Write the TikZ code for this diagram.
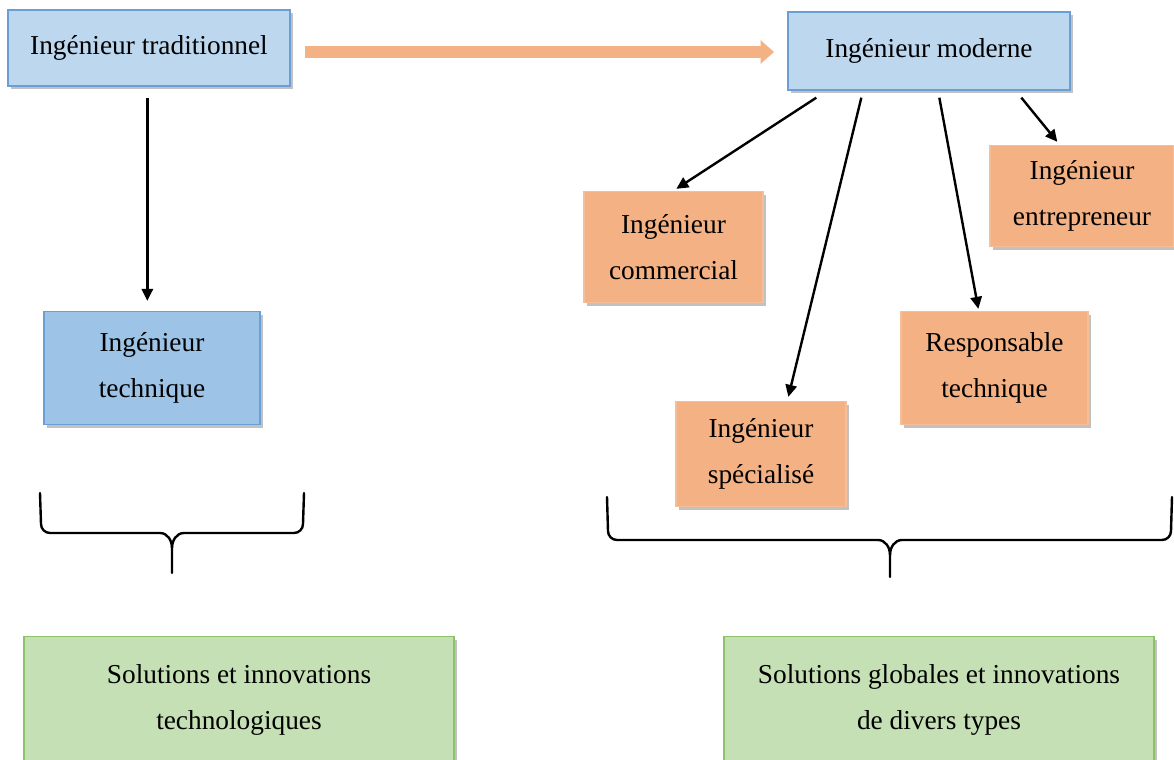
\documentclass[tikz,border=0pt]{standalone}
\usepackage{fontspec}
\setmainfont{Liberation Serif}
\usepackage{tikz}
\usetikzlibrary
  {
    arrows.meta,              % arrow heads
    shadows,                  % drop shadows below the boxes
    calc,                     % offsets from box corners
  }

\definecolor{paleblue}{HTML}{BDD7EE}
\definecolor{midblue}{HTML}{9DC3E6}
\definecolor{edgeblue}{HTML}{6A9FD6}
\definecolor{paleorange}{HTML}{F4B183}
\definecolor{edgeorange}{HTML}{F6BE98}
\definecolor{palegreen}{HTML}{C5E0B4}
\definecolor{edgegreen}{HTML}{8DC26B}

\begin{document}
\begin{tikzpicture}
    [
      x=0.75pt, y=-0.75pt,
      box/.style=
        {
          rectangle,
          inner sep=0pt,
          align=center,
          line width=1pt,
          font=\fontsize{20.5}{35}\selectfont,
          drop shadow={shadow xshift=2.5pt, shadow yshift=-2.5pt,
                       opacity=0.35, fill=black!70},
        },
      oldbox/.style=
        {
          box,
          draw=edgeblue,
          fill=paleblue,
        },
      techbox/.style=
        {
          box,
          draw=edgeblue,
          fill=midblue,
        },
      rolebox/.style=
        {
          box,
          draw=edgeorange,
          fill=paleorange,
        },
      resultbox/.style=
        {
          box,
          draw=edgegreen,
          fill=palegreen,
          minimum width=322.5pt,
          minimum height=95.25pt,
        },
      link/.style=
        {
          line width=1.8pt,
          -{Triangle[length=9pt,width=8.5pt]},
        },
      brace/.style=
        {
          line width=1.8pt,
          line cap=round,
        },
    ]
    \clip (0,0) rectangle (1174,760);

    % top row
    \node[oldbox, minimum width=211.5pt, minimum height=57pt]
      (trad)         at (149,48)      {Ingénieur traditionnel};
    \node[oldbox, minimum width=211.5pt, minimum height=58.5pt]
      (modern)       at (929,51)      {Ingénieur moderne};

    % the roles
    \node[techbox, minimum width=162pt, minimum height=84.75pt]
      (technique)    at (152,368)     {Ingénieur\\technique};
    \node[rolebox, minimum width=134.25pt, minimum height=83.25pt]
      (commercial)   at (673.5,247)   {Ingénieur\\commercial};
    \node[rolebox, minimum width=138pt, minimum height=75.75pt]
      (entrepreneur) at (1082,196)    {Ingénieur\\entrepreneur};
    \node[rolebox, minimum width=140.25pt, minimum height=84.75pt]
      (responsable)  at (994.5,368)   {Responsable\\technique};
    \node[rolebox, minimum width=127.5pt, minimum height=78.75pt]
      (specialise)   at (761,454)     {Ingénieur\\spécialisé};

    % results
    \node[resultbox] (tradresult)   at (239,700)
      {Solutions et innovations\\technologiques};
    \node[resultbox] (modernresult) at (939,700)
      {Solutions globales et innovations\\de divers types};

    % orange arrow
    \draw [paleorange, line width=9pt,
           -{Triangle[length=10pt,width=17pt]},
           shorten <=11pt, shorten >=10pt]
      (trad.east |- 0,52) -- (modern.west |- 0,52);

    % black arrows
    \draw [link] ($(trad.south west)+(140,11)$)
      -- ($(technique.north west)+(104,-10)$);
    \draw [link] ($(modern.south west)+(29,7)$)
      -- ($(commercial.north west)+(93,-2)$);
    \draw [link] ($(modern.south west)+(74,7)$)
      -- ($(specialise.north west)+(113,-4)$);
    \draw [link] ($(modern.south west)+(152,7)$)
      -- ($(responsable.north west)+(78,-2)$);
    \draw [link] ($(modern.south west)+(234,7)$)
      -- ($(entrepreneur.north west)+(68,-3)$);

    % braces
    \draw [brace] (40,493) -- (41,524) to[out=-90,in=180] (50,533)
      -- (160,533) to[out=0,in=90] (172,548) -- (172,573);
    \draw [brace] (304,493) -- (303,524) to[out=-90,in=0] (294,533)
      -- (184,533) to[out=180,in=90] (172,548);
    \draw [brace] (607,497) -- (608,531) to[out=-90,in=180] (617,540)
      -- (878,540) to[out=0,in=90] (890,555) -- (890,577);
    \draw [brace] (1172,497) -- (1171,531) to[out=-90,in=0] (1162,540)
      -- (902,540) to[out=180,in=90] (890,555);
\end{tikzpicture}
\end{document}
